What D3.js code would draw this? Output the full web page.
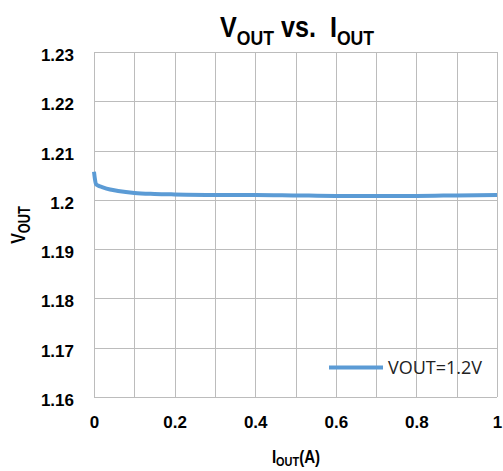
<!DOCTYPE html>
<html><head><meta charset="utf-8">
<script src="https://cdn.jsdelivr.net/npm/d3@7"></script>
<style>body{margin:0;background:#fff}</style>
</head><body>
<svg id="c" width="503" height="471"></svg>
<script>
const iout = [0, 0.002, 0.005, 0.01, 0.02, 0.04, 0.06, 0.1, 0.15, 0.2, 0.3, 0.4, 0.5, 0.6, 0.7, 0.8, 0.9, 1.0];
const vout = [1.2057, 1.2044, 1.2032, 1.2029, 1.2026, 1.2021, 1.2018, 1.2014, 1.2012, 1.2011, 1.2010, 1.2010, 1.2009, 1.2008, 1.2008, 1.2008, 1.2009, 1.2010];
const xTicks = [0, 0.2, 0.4, 0.6, 0.8, 1];
const yTicks = [1.16, 1.17, 1.18, 1.19, 1.2, 1.21, 1.22, 1.23];
const seriesName = "VOUT=1.2V";

const svg = d3.select("#c");
const L = 94, R = 497, T = 52, B = 397;
const x = d3.scaleLinear().domain([0, 1]).range([L, R]);
const y = d3.scaleLinear().domain([1.16, 1.23]).range([B, T]);
const sans = "'Liberation Sans',Arial,sans-serif";

// grid
const g = svg.append("g");
g.selectAll("line.v").data(d3.range(0, 11).map(i => i / 10)).join("line")
  .attr("x1", d => Math.round(x(d)) + 0.5).attr("x2", d => Math.round(x(d)) + 0.5)
  .attr("y1", T).attr("y2", B).attr("stroke", "#bcbcbc").attr("stroke-width", 1);
g.selectAll("line.h").data(yTicks).join("line")
  .attr("y1", d => Math.round(y(d)) + 0.5).attr("y2", d => Math.round(y(d)) + 0.5)
  .attr("x1", L).attr("x2", R).attr("stroke", "#bcbcbc").attr("stroke-width", 1);

// axes labels via d3 axes
const xa = svg.append("g").attr("transform", `translate(0,${B})`)
  .call(d3.axisBottom(x).tickValues(xTicks).tickFormat(d => d3.format("")(d)).tickSize(0).tickPadding(19));
const ya = svg.append("g").attr("transform", `translate(${L},0)`)
  .call(d3.axisLeft(y).tickValues(yTicks).tickFormat(d => d3.format("")(+d.toFixed(2))).tickSize(0).tickPadding(20));
[xa, ya].forEach(a => {
  a.select(".domain").remove();
  a.selectAll("text").attr("font-family", sans).attr("font-weight", "bold").attr("font-size", 17).attr("fill", "#000");
});
ya.selectAll("text").attr("dy", "0.5em");
xa.selectAll("text").attr("dy", "0.71em");

// line
svg.append("path").datum(iout.map((d, i) => [d, vout[i]]))
  .attr("fill", "none").attr("stroke", "#5b9bd5").attr("stroke-width", 4)
  .attr("stroke-linejoin", "round")
  .attr("d", d3.line().x(d => x(d[0])).y(d => y(d[1])).curve(d3.curveMonotoneX));

// title (condensed)
const title = svg.append("text").attr("transform", "translate(297,37) scale(0.84,1)").attr("text-anchor", "middle")
  .attr("font-family", sans).attr("font-weight", "bold").attr("font-size", 30).attr("fill", "#000");
title.append("tspan").text("V");
title.append("tspan").text("OUT").attr("font-size", 21).attr("dy", 8);
title.append("tspan").text(" vs.\u00a0\u00a0I").attr("dy", -8);
title.append("tspan").text("OUT").attr("font-size", 21).attr("dy", 8);

// x title
const xt = svg.append("text").attr("transform", "translate(296,463) scale(0.84,1)").attr("text-anchor", "middle")
  .attr("font-family", sans).attr("font-weight", "bold").attr("font-size", 18).attr("fill", "#000");
xt.append("tspan").text("I");
xt.append("tspan").text("OUT").attr("font-size", 13).attr("dy", 3);
xt.append("tspan").text("(A)").attr("dy", -3);

// y title
const yt = svg.append("text").attr("transform", "translate(25,225) rotate(-90) scale(0.8,1)").attr("text-anchor", "middle")
  .attr("font-family", sans).attr("font-weight", "bold").attr("font-size", 20).attr("fill", "#000");
yt.append("tspan").text("V");
yt.append("tspan").text("OUT").attr("font-size", 16).attr("dy", 5);

// legend
svg.append("line").attr("x1", 329).attr("x2", 383).attr("y1", 367.5).attr("y2", 367.5)
  .attr("stroke", "#5b9bd5").attr("stroke-width", 4);
svg.append("text").attr("x", 388).attr("y", 374).attr("font-family", "'Open Sans', Lato, sans-serif")
  .attr("font-size", 18).attr("fill", "#222").text(seriesName);
</script>
</body></html>
